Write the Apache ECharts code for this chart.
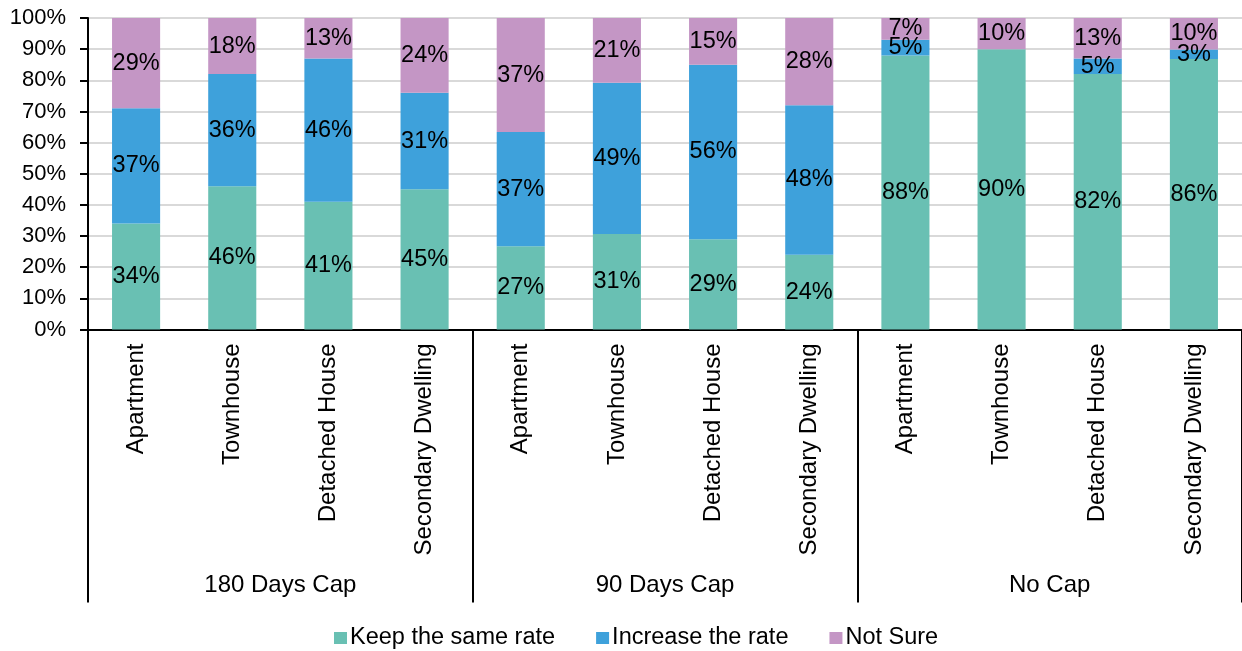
<!DOCTYPE html>
<html>
<head>
<meta charset="utf-8">
<script src="https://cdn.jsdelivr.net/npm/echarts@6/dist/echarts.min.js"></script>
<style>
html,body{margin:0;padding:0;background:#fff;}
#chart{width:1242px;height:651px;}
</style>
</head>
<body>
<div id="chart"></div>
<script>
var categories = ['Apartment','Townhouse','Detached House','Secondary Dwelling',
                  'Apartment','Townhouse','Detached House','Secondary Dwelling',
                  'Apartment','Townhouse','Detached House','Secondary Dwelling'];
var groups = ['180 Days Cap','90 Days Cap','No Cap'];
var keepSame = [34,46,41,45, 27,31,29,24, 88,90,82,86];
var increase = [37,36,46,31, 37,49,56,48, 5,0,5,3];
var notSure  = [29,18,13,24, 37,21,15,28, 7,10,13,10];
var yTicks = [0,10,20,30,40,50,60,70,80,90,100];

var FONT = '"Liberation Sans", Arial, sans-serif';
var totals = keepSame.map(function(v,i){ return v + increase[i] + notSure[i]; });
function norm(arr){ return arr.map(function(v,i){ return v / totals[i] * 100; }); }

function makeSeries(name, raw, color){
  return {
    name: name, type: 'bar', stack: 'all', barWidth: '50%',
    data: norm(raw),
    itemStyle: { color: color },
    label: {
      show: true, position: 'inside', color: '#000', fontSize: 23.5, fontFamily: FONT,
      formatter: function(p){ var v = raw[p.dataIndex]; return v ? v + '%' : ''; }
    },
    emphasis: { disabled: true }
  };
}

var chart = echarts.init(document.getElementById('chart'));
chart.setOption({
  animation: false,
  textStyle: { fontFamily: FONT },
  grid: { left: 88, top: 18, width: 1155.5, height: 311.5, containLabel: false },
  legend: {
    top: 621, left: 329, itemWidth: 13, itemHeight: 12, itemGap: 41,
    icon: 'rect',
    textStyle: { fontSize: 23.5, color: '#000', fontFamily: FONT, padding: [0,0,0,-2] },
    data: ['Keep the same rate','Increase the rate','Not Sure']
  },
  xAxis: [
    {
      type: 'category', data: categories, position: 'bottom',
      axisLine: { show: true, lineStyle: { color: '#000', width: 2 } },
      axisTick: { show: false },
      axisLabel: { rotate: 90, margin: 14, fontSize: 24, color: '#000', fontFamily: FONT, interval: 0 }
    },
    {
      type: 'category', data: groups, position: 'bottom', gridIndex: 0,
      axisLine: { show: false },
      axisTick: { show: true, length: 273, lineStyle: { color: '#000', width: 2 } },
      axisLabel: { margin: 244, fontSize: 24, color: '#000', fontFamily: FONT, interval: 0 },
      splitLine: { show: false }
    }
  ],
  yAxis: {
    type: 'value', min: 0, max: 100, interval: 10,
    axisLine: { show: true, lineStyle: { color: '#000', width: 2 } },
    axisTick: { show: true, length: 8, lineStyle: { color: '#000', width: 2 } },
    axisLabel: { formatter: function(v){ return yTicks.indexOf(v) >= 0 ? v + '%' : ''; }, fontSize: 22, color: '#000', margin: 22, fontFamily: FONT },
    splitLine: { show: true, lineStyle: { color: '#d9d9d9', width: 2 } }
  },
  series: [
    makeSeries('Keep the same rate', keepSame, '#69c0b3'),
    makeSeries('Increase the rate', increase, '#3ea1db'),
    makeSeries('Not Sure', notSure, '#c496c5')
  ]
});
</script>
</body>
</html>
